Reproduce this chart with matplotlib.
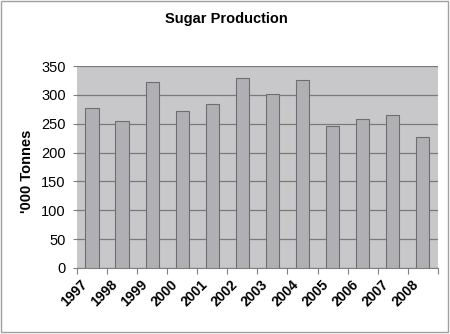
import numpy as np
import matplotlib.pyplot as plt
from matplotlib.patches import Rectangle

years = ['1997', '1998', '1999', '2000', '2001', '2002',
         '2003', '2004', '2005', '2006', '2007', '2008']
production = [277, 254, 322, 272, 284, 330, 301, 326, 246, 259, 266, 227]

plt.rcParams['font.family'] = ['Liberation Sans', 'DejaVu Sans']

fig = plt.figure(figsize=(4.5, 3.34), dpi=100)
fig.patches.append(Rectangle((0.002, 0.006), 0.994, 0.99, transform=fig.transFigure,
                             fill=False, edgecolor='#a0a0a0', linewidth=1))

ax = fig.add_axes([0.171, 0.198, 0.802, 0.604])
ax.set_facecolor('#c8c8ca')

x = np.arange(len(years))
ax.bar(x + 0.5, production, width=0.44, color='#b0b0b4', edgecolor='#6e6e6e',
       linewidth=0.8, zorder=3)

ax.set_xlim(0, len(years))
ax.set_ylim(0, 350)
ax.set_yticks(range(0, 351, 50))
ax.yaxis.grid(True, color='#7a7a7a', linewidth=0.9, zorder=1)
ax.tick_params(axis='y', length=3, color='#808080', labelsize=10.5, pad=5)

# ticks at category boundaries, labels slanted under each one
ax.set_xticks(np.arange(len(years) + 1))
ax.set_xticklabels([''] * (len(years) + 1))
ax.tick_params(axis='x', length=4, color='#808080', direction='out')
for i, yr in enumerate(years):
    ax.text(i + 0.12, -16, yr, rotation=45, ha='right', va='top',
            rotation_mode='anchor', fontsize=10, fontweight='bold')

for side in ['top', 'right', 'left']:
    ax.spines[side].set_visible(False)
ax.spines['bottom'].set_color('#808080')

ax.set_ylabel("'000 Tonnes", fontsize=10.5, fontweight='bold')
ax.yaxis.set_label_coords(-0.118, 0.48)
fig.text(0.502, 0.943, 'Sugar Production', ha='center', va='center',
         fontsize=10.5, fontweight='bold')

fig.savefig('out.png', dpi=100)
